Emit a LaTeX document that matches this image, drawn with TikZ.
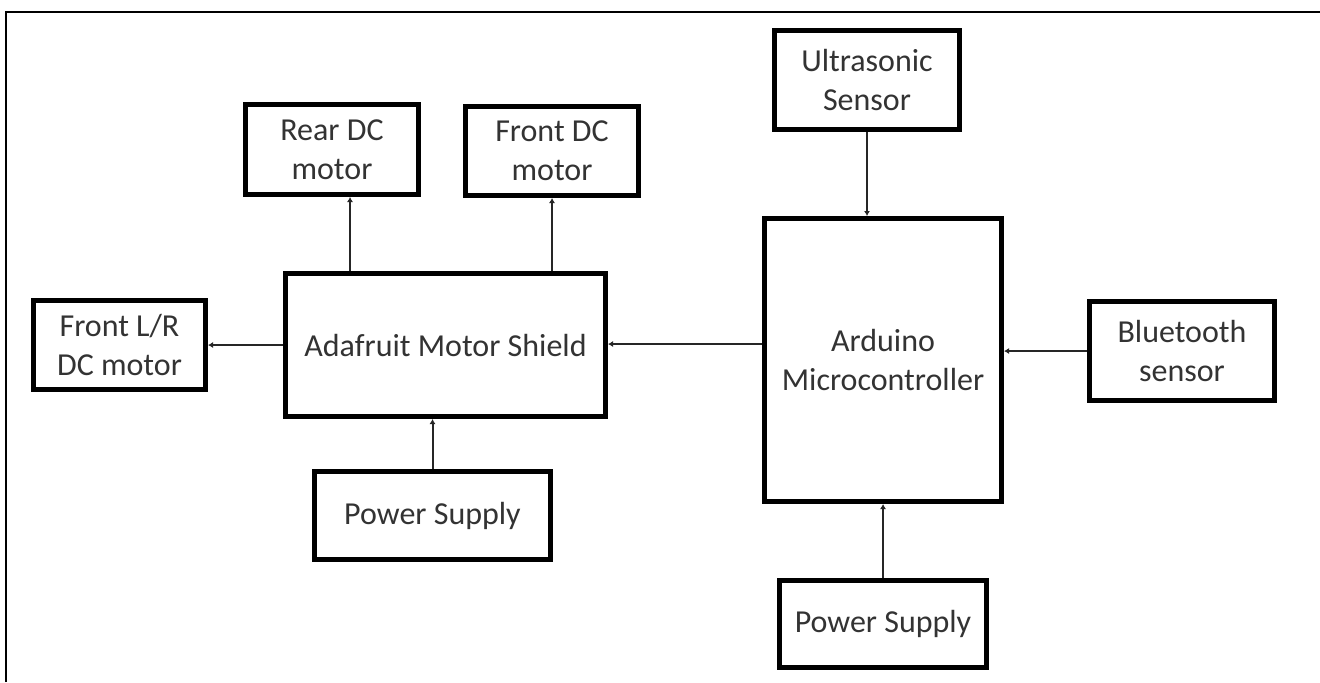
\documentclass[tikz,border=0pt]{standalone}
\usepackage{fontspec}
\setmainfont{Carlito}
\usetikzlibrary{arrows.meta}
\definecolor{txt}{HTML}{333333}
\begin{document}
\begin{tikzpicture}[x=0.5pt,y=-0.5pt,
  blk/.style={draw=black,line width=2.5pt,fill=white,inner sep=0pt,
    align=center,text=txt,font=\fontsize{16}{19.5}\selectfont},
  arr/.style={line width=1pt,draw=black!85,-{Latex[length=2.5pt,width=3pt]}},
  frameline/.style={line width=0.9pt,draw=black}]
\useasboundingbox (0,0) rectangle (1320,682);
% outer frame (top and left)
\coordinate (fa) at (6,682);
\coordinate (fb) at (6,11.7);
\coordinate (fc) at (1320,11.7);
\draw[frameline] (fa) -- (fb) -- (fc);
% boxes
\node[blk,minimum width=86.5pt,minimum height=45pt]   (rear)  at (332,149.5) {Rear DC\\motor};
\node[blk,minimum width=86.5pt,minimum height=44.5pt] (front) at (552,151)   {Front DC\\motor};
\node[blk,minimum width=86pt,minimum height=44.5pt]   (lr)    at (119.5,345) {Front L/R\\DC motor};
\node[blk,minimum width=160pt,minimum height=71.5pt]  (ada)   at (445.5,345) {Adafruit Motor Shield};
\node[blk,minimum width=118pt,minimum height=44pt]    (psl)   at (432.5,515.5) {Power Supply};
\node[blk,minimum width=92.5pt,minimum height=49.5pt] (ultra) at (867,80)    {Ultrasonic\\Sensor};
\node[blk,minimum width=118.5pt,minimum height=141.5pt] (ard) at (883,360)   {Arduino\\Microcontroller};
\node[blk,minimum width=92.5pt,minimum height=49.5pt] (bt)    at (1182,351)  {Bluetooth\\sensor};
\node[blk,minimum width=103.5pt,minimum height=43.5pt] (psr)  at (883,624)   {Power Supply};
% connector guide coordinates
\coordinate (xr) at (350,0);
\coordinate (yl) at (0,345);
\coordinate (ya) at (0,344);
\coordinate (yb) at (0,351);
% connectors
\draw[arr] (ada.north -| xr) -- (rear.south -| xr);
\draw[arr] (ada.north -| front.south) -- (front.south);
\draw[arr] (ada.west |- yl) -- (lr.east |- yl);
\draw[arr] (psl.north) -- (ada.south -| psl.north);
\draw[arr] (ard.west |- ya) -- (ada.east |- ya);
\draw[arr] (ultra.south) -- (ard.north -| ultra.south);
\draw[arr] (bt.west |- yb) -- (ard.east |- yb);
\draw[arr] (psr.north) -- (ard.south);
\end{tikzpicture}
\end{document}
